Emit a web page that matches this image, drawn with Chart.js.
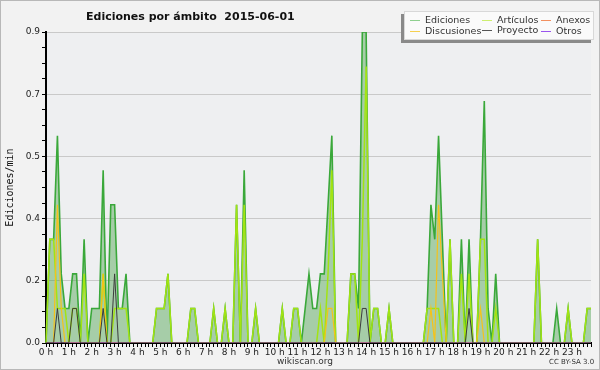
<!DOCTYPE html>
<html>
<head>
<meta charset="utf-8">
<script src="https://cdn.jsdelivr.net/npm/chart.js@4.4.1/dist/chart.umd.min.js"></script>
<style>
	html, body { margin: 0; padding: 0; background: #f2f2f2; }
	#wrap { position: relative; width: 600px; height: 370px; overflow: hidden; font-family: 'DejaVu Sans', sans-serif; }
	#frame { position: absolute; left: 0; top: 0; width: 598px; height: 368px; border: 1px solid #b8b8b8; pointer-events: none; }
	canvas { position: absolute; left: 0; top: 0; }
	#title { position: absolute; left: 86px; top: 10px; font-size: 11px; font-weight: bold; color: #111; white-space: pre; }
	#legend { position: absolute; left: 404px; top: 11px; width: 188px; height: 27px; background: #fafafa; border: 1px solid #d8d8d8; box-shadow: -3px 3px 0 #8a8a8a; }
	.item { position: absolute; font-size: 9.5px; color: #333; white-space: nowrap; line-height: 10px; }
	.item i { display: inline-block; width: 10px; height: 1px; vertical-align: middle; margin-right: 5px; }
	#site { position: absolute; left: 277px; top: 356px; font-size: 9px; color: #333; }
	#lic { position: absolute; left: 549px; top: 358px; font-size: 7px; color: #333; }
</style>
</head>
<body>
<div id="wrap">
	<canvas id="chart" width="600" height="370"></canvas>
	<div id="title">Ediciones por ámbito  2015-06-01</div>
	<div id="legend"></div>
	<div id="site">wikiscan.org</div>
	<div id="lic">CC BY-SA 3.0</div>
	<div id="frame"></div>
</div>
<script>
// ── Data (edits per minute, 10-minute slots, 144 per day) ────────────────────

const hourLabels = ['0 h', '1 h', '2 h', '3 h', '4 h', '5 h', '6 h', '7 h', '8 h', '9 h', '10 h', '11 h',
	'12 h', '13 h', '14 h', '15 h', '16 h', '17 h', '18 h', '19 h', '20 h', '21 h', '22 h', '23 h']
const slotMinutes = ['00', '10', '20', '30', '40', '50']
const yLabels = ['0.0', '0.2', '0.4', '0.5', '0.7', '0.9']

const ediciones = [
	0, .3, .3, .6, .2, .1, .1, .2, .2, 0, .3, 0,
	.1, .1, .1, .5, 0, .4, .4, .1, .1, .2, 0, 0,
	0, 0, 0, 0, 0, .1, .1, .1, .2, 0, 0, 0,
	0, 0, .1, .1, 0, 0, 0, 0, .1, 0, 0, .1,
	0, 0, .4, 0, .5, 0, 0, .1, 0, 0, 0, 0,
	0, 0, .1, 0, 0, .1, .1, 0, .1, .2, .1, .1,
	.2, .2, .4, .6, 0, 0, 0, 0, .2, .2, .1, .9,
	.9, 0, .1, .1, 0, 0, .1, 0, 0, 0, 0, 0,
	0, 0, 0, 0, .1, .4, .3, .6, .3, 0, .3, 0,
	0, .3, 0, .3, 0, 0, .3, .7, .1, 0, .2, 0,
	0, 0, 0, 0, 0, 0, 0, 0, 0, .3, 0, 0,
	0, 0, .1, 0, 0, .1, 0, 0, 0, 0, .1, .1,
]
const articulos = [
	0, .3, .3, .1, .1, .1, 0, .1, .1, 0, .2, 0,
	0, 0, 0, .2, 0, 0, .1, .1, .1, .1, 0, 0,
	0, 0, 0, 0, 0, .1, .1, .1, .2, 0, 0, 0,
	0, 0, .1, .1, 0, 0, 0, 0, .1, 0, 0, .1,
	0, 0, .4, 0, .4, 0, 0, .1, 0, 0, 0, 0,
	0, 0, .1, 0, 0, .1, .1, 0, 0, 0, 0, 0,
	.1, 0, .2, .5, 0, 0, 0, 0, .2, .2, 0, .3,
	.8, 0, .1, .1, 0, 0, .1, 0, 0, 0, 0, 0,
	0, 0, 0, 0, .1, .1, .1, .1, 0, 0, .3, 0,
	0, .2, 0, .2, 0, 0, .3, .3, 0, 0, .1, 0,
	0, 0, 0, 0, 0, 0, 0, 0, 0, .3, 0, 0,
	0, 0, 0, 0, 0, .1, 0, 0, 0, 0, .1, .1,
]
const discusiones = [
	0, 0, 0, .4, .1, 0, 0, 0, 0, 0, 0, 0,
	0, 0, 0, .2, 0, 0, 0, 0, 0, 0, 0, 0,
	0, 0, 0, 0, 0, 0, 0, 0, 0, 0, 0, 0,
	0, 0, 0, 0, 0, 0, 0, 0, 0, 0, 0, 0,
	0, 0, 0, 0, 0, 0, 0, 0, 0, 0, 0, 0,
	0, 0, 0, 0, 0, 0, 0, 0, 0, 0, 0, 0,
	0, 0, .1, .1, 0, 0, 0, 0, 0, 0, 0, 0,
	0, 0, 0, 0, 0, 0, 0, 0, 0, 0, 0, 0,
	0, 0, 0, 0, 0, .1, 0, .4, .2, 0, 0, 0,
	0, 0, 0, 0, 0, 0, .1, 0, 0, 0, 0, 0,
	0, 0, 0, 0, 0, 0, 0, 0, 0, 0, 0, 0,
	0, 0, 0, 0, 0, 0, 0, 0, 0, 0, 0, 0,
]
const proyecto = [
	0, 0, 0, .1, 0, 0, 0, .1, .1, 0, 0, 0,
	0, 0, 0, .1, 0, 0, .2, 0, 0, 0, 0, 0,
	0, 0, 0, 0, 0, 0, 0, 0, 0, 0, 0, 0,
	0, 0, 0, 0, 0, 0, 0, 0, 0, 0, 0, 0,
	0, 0, 0, 0, 0, 0, 0, 0, 0, 0, 0, 0,
	0, 0, 0, 0, 0, 0, 0, 0, 0, 0, 0, 0,
	0, 0, 0, 0, 0, 0, 0, 0, 0, 0, 0, .1,
	.1, 0, 0, 0, 0, 0, 0, 0, 0, 0, 0, 0,
	0, 0, 0, 0, 0, 0, 0, 0, 0, 0, 0, 0,
	0, 0, 0, .1, 0, 0, 0, 0, 0, 0, 0, 0,
	0, 0, 0, 0, 0, 0, 0, 0, 0, 0, 0, 0,
	0, 0, 0, 0, 0, 0, 0, 0, 0, 0, 0, 0,
]
const anexos = [
	0, 0, 0, 0, 0, 0, 0, 0, 0, 0, 0, 0,
	0, 0, 0, 0, 0, 0, 0, 0, 0, 0, 0, 0,
	0, 0, 0, 0, 0, 0, 0, 0, 0, 0, 0, 0,
	0, 0, 0, 0, 0, 0, 0, 0, 0, 0, 0, 0,
	0, 0, 0, 0, 0, 0, 0, 0, 0, 0, 0, 0,
	0, 0, 0, 0, 0, 0, 0, 0, 0, 0, 0, 0,
	0, 0, 0, 0, 0, 0, 0, 0, 0, 0, 0, 0,
	0, 0, 0, 0, 0, 0, 0, 0, 0, 0, 0, 0,
	0, 0, 0, 0, 0, 0, 0, 0, 0, 0, 0, 0,
	0, 0, 0, 0, 0, 0, 0, 0, 0, 0, 0, 0,
	0, 0, 0, 0, 0, 0, 0, 0, 0, 0, 0, 0,
	0, 0, 0, 0, 0, 0, 0, 0, 0, 0, 0, 0,
]
const otros = [
	0, 0, 0, 0, 0, 0, 0, 0, 0, 0, 0, 0,
	0, 0, 0, 0, 0, 0, 0, 0, 0, 0, 0, 0,
	0, 0, 0, 0, 0, 0, 0, 0, 0, 0, 0, 0,
	0, 0, 0, 0, 0, 0, 0, 0, 0, 0, 0, 0,
	0, 0, 0, 0, 0, 0, 0, 0, 0, 0, 0, 0,
	0, 0, 0, 0, 0, 0, 0, 0, 0, 0, 0, 0,
	0, 0, 0, 0, 0, 0, 0, 0, 0, 0, 0, 0,
	0, 0, 0, 0, 0, 0, 0, 0, 0, 0, 0, 0,
	0, 0, 0, 0, 0, 0, 0, 0, 0, 0, 0, 0,
	0, 0, 0, 0, 0, 0, 0, 0, 0, 0, 0, 0,
	0, 0, 0, 0, 0, 0, 0, 0, 0, 0, 0, 0,
	0, 0, 0, 0, 0, 0, 0, 0, 0, 0, 0, 0,
]

const Y_MAX = 0.9

// slot labels "0:00" … "23:50"
const slots = hourLabels.flatMap(h => slotMinutes.map(m => h.replace(' h', '') + ':' + m))

// ── Legend (html) ───────────────────────────────────────────────────────────

const legendItems = [
	{ label: 'Ediciones', color: '#8fd08f', x: 5, y: 3 },
	{ label: 'Artículos', color: '#cdee70', x: 77, y: 3 },
	{ label: 'Anexos', color: '#f29060', x: 136, y: 3 },
	{ label: 'Discusiones', color: '#f6d050', x: 5, y: 14 },
	{ label: 'Proyecto', color: '#555555', x: 77, y: 13 },
	{ label: 'Otros', color: '#9a55ee', x: 136, y: 14 },
]
const legendEl = document.getElementById('legend')
legendItems.forEach(it => {
	const d = document.createElement('div')
	d.className = 'item'
	d.style.left = it.x + 'px'
	d.style.top = it.y + 'px'
	d.innerHTML = `<i style="background:${it.color}"></i>${it.label}`
	legendEl.appendChild(d)
})

// ── Chart ───────────────────────────────────────────────────────────────────

const plotBg = {
	id: 'plotBg',
	beforeDraw(chart) {
		const { ctx, chartArea: a } = chart
		ctx.save()
		ctx.fillStyle = '#eeeff1'
		ctx.fillRect(a.left, a.top, a.right - a.left, a.bottom - a.top)
		ctx.restore()
	},
}

function lineSet(label, data, color, width, order) {
	return { label, data, borderColor: color, borderWidth: width, pointRadius: 0, tension: 0, fill: false, order }
}

new Chart(document.getElementById('chart'), {
	type: 'line',
	data: {
		labels: slots,
		datasets: [
			lineSet('Proyecto', proyecto, '#3c3c3c', 1, 0),
			lineSet('Otros', otros, '#9a55ee', 1, 1),
			lineSet('Anexos', anexos, '#f08040', 1, 2),
			lineSet('Discusiones', discusiones, '#f5c21a', 1.2, 3),
			lineSet('Artículos', articulos, '#a2e412', 1.5, 4),
			{
				label: 'Ediciones',
				data: ediciones,
				borderColor: '#3aa83a',
				borderWidth: 1.6,
				backgroundColor: 'rgba(50,150,50,0.38)',
				fill: 'origin',
				pointRadius: 0,
				tension: 0,
				order: 5,
			},
		],
	},
	options: {
		responsive: false,
		animation: false,
		events: [],
		layout: { padding: { left: 0, right: 9, top: 32, bottom: 7 } },
		plugins: { legend: { display: false }, tooltip: { enabled: false } },
		scales: {
			x: {
				type: 'category',
				offset: false,
				z: 1,
				afterFit: s => { s.height = 20 },
				border: { display: true, color: '#000', width: 2 },
				grid: { display: true, drawOnChartArea: false, drawTicks: true, tickLength: 4, tickColor: '#000' },
				ticks: {
					autoSkip: false,
					maxRotation: 0,
					padding: 0,
					color: '#222',
					font: { family: 'DejaVu Sans', size: 9 },
					callback: (v, i) => (i % 6 === 0 ? hourLabels[i / 6] : ''),
				},
			},
			y: {
				min: 0,
				max: Y_MAX,
				afterFit: s => { s.width = 46 },
				afterBuildTicks: s => {
					s.ticks = Array.from({ length: 21 }, (_, i) => ({ value: (Y_MAX * i) / 20 }))
				},
				border: { display: true, color: '#000', width: 2 },
				grid: {
					color: c => (c.index % 4 === 0 && c.index > 0 ? '#c9c9c9' : 'rgba(0,0,0,0)'),
					lineWidth: 1,
					tickLength: 4,
					tickColor: '#000',
				},
				ticks: {
					autoSkip: false,
					padding: 2,
					color: '#222',
					font: { family: 'DejaVu Sans', size: 9 },
					callback: (v, i) => (i % 4 === 0 ? yLabels[i / 4] : ''),
				},
				title: {
					display: true,
					text: 'Ediciones/min',
					color: '#111',
					padding: { top: 4, bottom: 0 },
					font: { family: 'DejaVu Sans Mono', size: 10 },
				},
			},
		},
	},
	plugins: [plotBg],
})
</script>
</body>
</html>
